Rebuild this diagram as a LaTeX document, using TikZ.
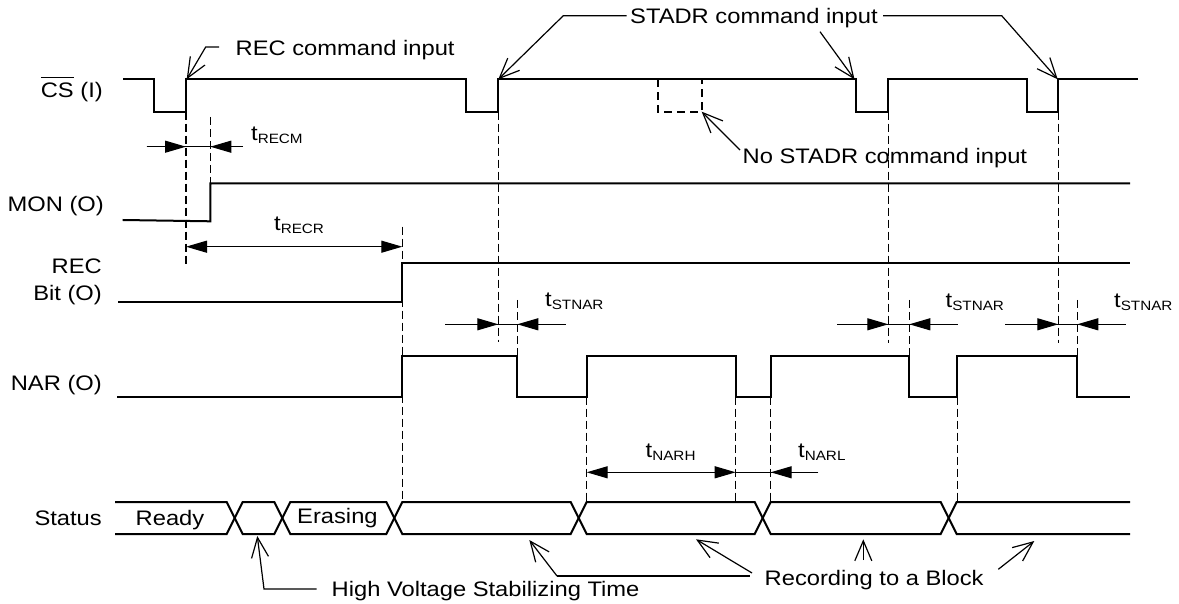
\documentclass[tikz,border=0pt]{standalone}
\usepackage{fontspec}
\setmainfont{Liberation Sans}[FakeStretch=1.13]
\usetikzlibrary{arrows.meta}
\newcommand\myovl[1]{\setbox0=\hbox{#1}\rlap{\raisebox{\dimexpr\ht0+4.5pt\relax}{\rule{\wd0}{1.2pt}}}\box0\relax}
\newcommand\tsub[1]{t\raisebox{-3pt}{\fontsize{13.5}{14}\selectfont #1}}
\tikzset{
  sig/.style={line width=2pt},
  guide/.style={line width=1.2pt, dash pattern=on 8pt off 4pt},
  dbox/.style={line width=2pt, dash pattern=on 8pt off 5pt},
  tline/.style={line width=1.2pt},
  tarr/.style={line width=1.2pt, -{Triangle[length=21pt,width=12pt]}},
  tdbl/.style={line width=1.2pt, {Triangle[length=21pt,width=12pt]}-{Triangle[length=21pt,width=12pt]}},
  callout/.style={line width=1.2pt, -{Straight Barb[length=20pt,width=17pt]}},
  lbl/.style={font=\fontsize{21}{24}\selectfont, inner sep=0pt}
}
\begin{document}
\begin{tikzpicture}[x=1pt,y=-1pt]
\useasboundingbox (0,0) rectangle (1179,604);

% ---- signal labels
\node[lbl,anchor=base east] (csl) at (103,97.5) {\myovl{CS} (I)};
\node[lbl,anchor=base east] (monl) at (104,211.5) {MON (O)};
\node[lbl,anchor=base east] (recl) at (102,274) {REC};
\node[lbl,anchor=base east] (bitl) at (102,301) {Bit (O)};
\node[lbl,anchor=base east] (narl) at (102,390) {NAR (O)};
\node[lbl,anchor=base east] (stl) at (102,525) {Status};

% ---- dashed guides
\draw[guide] (186,111.7) -- (186,267);
\draw[guide] (210.3,117) -- (210.3,183.3);
\draw[guide] (402.3,226.7) -- (402.3,502);
\draw[guide] (498.3,111.7) -- (498.3,342);
\draw[guide] (517.3,300) -- (517.3,356);
\draw[guide] (586.7,396.7) -- (586.7,502);
\draw[guide] (735.7,396.7) -- (735.7,502);
\draw[guide] (770.7,396.7) -- (770.7,502);
\draw[guide] (888.3,111.7) -- (888.3,343);
\draw[guide] (909.3,300) -- (909.3,356);
\draw[guide] (957.3,396.7) -- (957.3,502);
\draw[guide] (1058.3,111.7) -- (1058.3,343);
\draw[guide] (1077.3,300) -- (1077.3,356);

% ---- CS
\draw[sig] (123,79.3) -- (154,79.3) -- (154,111.7) -- (185.7,111.7) -- (185.7,79.3)
  -- (465.7,79.3) -- (465.7,111.7) -- (498.3,111.7) -- (498.3,79.3)
  -- (856,79.3) -- (856,111.7) -- (888.3,111.7) -- (888.3,79.3)
  -- (1026.7,79.3) -- (1026.7,111.7) -- (1058.3,111.7) -- (1058.3,79.3) -- (1138.3,79.3);
\draw[dbox] (657.7,79.3) -- (657.7,111.7) -- (701.7,111.7) -- (701.7,79.3);

% ---- MON
\draw[sig] (122.7,220) -- (210.3,221.3) -- (210.3,183.3) -- (1130,183.3);
% ---- REC bit
\draw[sig] (118.3,302.3) -- (402.3,302.3) -- (402.3,263.3) -- (1130,263.3);
% ---- NAR
\draw[sig] (117.3,396.7) -- (402.3,396.7) -- (402.3,356) -- (517.3,356) -- (517.3,396.7)
  -- (586.7,396.7) -- (586.7,356) -- (735.7,356) -- (735.7,396.7) -- (770.7,396.7)
  -- (770.7,356) -- (909.3,356) -- (909.3,396.7) -- (957.3,396.7) -- (957.3,356)
  -- (1077.3,356) -- (1077.3,396.7) -- (1130,396.7);

% ---- Status bus
\draw[sig] (115,502) -- (226.7,502) -- (242.7,534) -- (274.3,534) -- (290.3,502) -- (386.3,502)
  -- (402.3,534) -- (570.7,534) -- (586.7,502) -- (754.7,502) -- (770.7,534) -- (940.7,534)
  -- (956.7,502) -- (1130,502);
\draw[sig] (115,534) -- (226.7,534) -- (242.7,502) -- (274.3,502) -- (290.3,534) -- (386.3,534)
  -- (402.3,502) -- (570.7,502) -- (586.7,534) -- (754.7,534) -- (770.7,502) -- (940.7,502)
  -- (956.7,534) -- (1130,534);
\node[lbl,anchor=base west] (ready) at (135.5,525) {Ready};
\node[lbl,anchor=base west] (eras) at (297,523.5) {Erasing};

% ---- timing arrows
\draw[tline] (146.7,146.7) -- (243,146.7);
\draw[tarr] (146.7,146.7) -- (186,146.7);
\draw[tarr] (243,146.7) -- (210.3,146.7);
\node[lbl,anchor=base west] (trecm) at (251,141) {\tsub{RECM}};

\draw[tdbl] (186,246.7) -- (402.3,246.7);
\node[lbl,anchor=base west] (trecr) at (274,230.5) {\tsub{RECR}};

\draw[tline] (445,324.3) -- (565.7,324.3);
\draw[tarr] (445,324.3) -- (498.3,324.3);
\draw[tarr] (565.7,324.3) -- (517.3,324.3);
\node[lbl,anchor=base west] (tst1) at (545,307) {\tsub{STNAR}};

\draw[tline] (837.3,324.3) -- (957.7,324.3);
\draw[tarr] (837.3,324.3) -- (888.3,324.3);
\draw[tarr] (957.7,324.3) -- (909.3,324.3);
\node[lbl,anchor=base west] (tst2) at (945.5,308) {\tsub{STNAR}};

\draw[tline] (1005,324.3) -- (1125.7,324.3);
\draw[tarr] (1005,324.3) -- (1058.3,324.3);
\draw[tarr] (1125.7,324.3) -- (1077.3,324.3);
\node[lbl,anchor=base west] (tst3) at (1114,308) {\tsub{STNAR}};

\draw[tdbl] (586.7,472.3) -- (735.7,472.3);
\node[lbl,anchor=base west] (tnarh) at (645.5,457) {\tsub{NARH}};
\draw[tline] (735.7,472.3) -- (818.3,472.3);
\draw[tarr] (818.3,472.3) -- (770.7,472.3);
\node[lbl,anchor=base west] (tnarl) at (798,457) {\tsub{NARL}};

% ---- callouts
\node[lbl,anchor=base west] (reccmd) at (235.5,55.7) {REC command input};
\draw[callout] (219,47) -- (205.7,47) -- (186.7,79.3);

\node[lbl,anchor=base west] (stadr) at (630,24) {STADR command input};
\draw[callout] (626.7,15.7) -- (563.3,15.7) -- (498.3,79.3);
\draw[callout] (820,31.7) -- (854.5,79.3);
\draw[callout] (883,15.7) -- (1001.7,15.7) -- (1057.7,79.3);

\node[lbl,anchor=base west] (nostadr) at (742.5,164) {No STADR command input};
\draw[callout] (740,150) -- (701.7,111.7);

\node[lbl,anchor=base west] (hv) at (331.5,596) {High Voltage Stabilizing Time};
\draw[callout] (316.7,589) -- (264,589) -- (257.3,536);

\node[lbl,anchor=base west] (rtb) at (764.5,585) {Recording to a Block};
\draw[callout] (557,576) -- (529.3,540);
\draw[tline] (557,576) -- (750,576);
\draw[callout] (752,573) -- (696,539.3);
\draw[callout] (863.3,560) -- (863.3,539.3);
\draw[callout] (998.3,569.3) -- (1034.3,541);
\end{tikzpicture}
\end{document}
